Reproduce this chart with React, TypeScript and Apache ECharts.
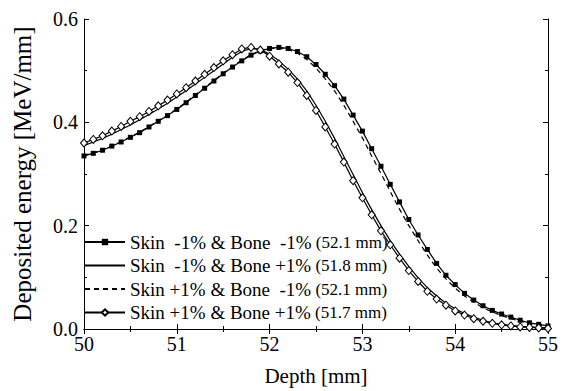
import React, { useEffect, useRef } from "react";
import * as echarts from "echarts";

const depth: number[] = [
  50.0, 50.1, 50.2, 50.3, 50.4, 50.5, 50.6, 50.7, 50.8, 50.9,
  51.0, 51.1, 51.2, 51.3, 51.4, 51.5, 51.6, 51.7, 51.8, 51.9,
  52.0, 52.1, 52.2, 52.3, 52.4, 52.5, 52.6, 52.7, 52.8, 52.9,
  53.0, 53.1, 53.2, 53.3, 53.4, 53.5, 53.6, 53.7, 53.8, 53.9,
  54.0, 54.1, 54.2, 54.3, 54.4, 54.5, 54.6, 54.7, 54.8, 54.9, 55.0,
];

// Skin -1% & Bone -1% (filled squares)
const skinM_boneM: number[] = [
  0.335, 0.340, 0.346, 0.354, 0.362, 0.371, 0.380, 0.391, 0.402, 0.413,
  0.425, 0.438, 0.452, 0.466, 0.480, 0.494, 0.507, 0.519, 0.530, 0.538,
  0.543, 0.545, 0.543, 0.537, 0.527, 0.512, 0.493, 0.471, 0.445, 0.414,
  0.383, 0.349, 0.315, 0.280, 0.246, 0.212, 0.182, 0.154, 0.127, 0.104,
  0.086, 0.069, 0.056, 0.045, 0.036, 0.029, 0.023, 0.017, 0.012, 0.009, 0.006,
];

// Skin -1% & Bone +1% (solid line)
const skinM_boneP: number[] = [
  0.355, 0.362, 0.369, 0.377, 0.386, 0.395, 0.405, 0.415, 0.426, 0.437,
  0.449, 0.461, 0.474, 0.487, 0.500, 0.513, 0.526, 0.537, 0.543, 0.541,
  0.532, 0.519, 0.503, 0.484, 0.461, 0.433, 0.402, 0.369, 0.334, 0.299,
  0.264, 0.231, 0.200, 0.171, 0.145, 0.121, 0.099, 0.080, 0.064, 0.050,
  0.039, 0.030, 0.023, 0.017, 0.012, 0.009, 0.007, 0.005, 0.004, 0.003, 0.002,
];

// Skin +1% & Bone -1% (dashed line)
const skinP_boneM: number[] = [
  0.336, 0.341, 0.347, 0.355, 0.363, 0.372, 0.381, 0.392, 0.403, 0.414,
  0.426, 0.439, 0.453, 0.467, 0.481, 0.495, 0.508, 0.520, 0.531, 0.539,
  0.543, 0.544, 0.541, 0.534, 0.522, 0.505, 0.484, 0.461, 0.433, 0.402,
  0.370, 0.335, 0.301, 0.266, 0.232, 0.200, 0.171, 0.143, 0.118, 0.097,
  0.079, 0.064, 0.052, 0.041, 0.033, 0.026, 0.020, 0.015, 0.011, 0.008, 0.005,
];

// Skin +1% & Bone +1% (open diamonds)
const skinP_boneP: number[] = [
  0.360, 0.367, 0.374, 0.383, 0.392, 0.402, 0.411, 0.421, 0.432, 0.443,
  0.455, 0.467, 0.480, 0.493, 0.506, 0.519, 0.531, 0.542, 0.545, 0.540,
  0.528, 0.513, 0.497, 0.477, 0.452, 0.423, 0.391, 0.358, 0.323, 0.287,
  0.254, 0.221, 0.190, 0.163, 0.137, 0.113, 0.092, 0.073, 0.058, 0.046,
  0.035, 0.027, 0.020, 0.015, 0.011, 0.008, 0.006, 0.004, 0.003, 0.002, 0.001,
];

const seriesNames: string[] = [
  "Skin\u00a0\u00a0-1% & Bone\u00a0\u00a0-1%",
  "Skin\u00a0\u00a0-1% & Bone +1%",
  "Skin +1% & Bone\u00a0\u00a0-1%",
  "Skin +1% & Bone +1%",
];
const peakLabels: string[] = ["(52.1 mm)", "(51.8 mm)", "(52.1 mm)", "(51.7 mm)"];

const FONT = "Liberation Serif";

export default function App() {
  const ref = useRef<HTMLDivElement>(null);

  useEffect(() => {
    if (!ref.current) return;
    const chart = echarts.init(ref.current, undefined, { renderer: "svg" });
    const pair = (ys: number[]) => depth.map((x, i) => [x, ys[i]]);
    const peakMap: Record<string, string> = {};
    seriesNames.forEach((n, i) => (peakMap[n] = peakLabels[i]));

    const axisCommon = {
      axisLine: { show: true, lineStyle: { color: "#000", width: 1 } },
      axisTick: { show: true, inside: true, length: 5, lineStyle: { color: "#000" } },
      minorTick: { show: true, splitNumber: 2, length: 3, lineStyle: { color: "#000" } },
      splitLine: { show: false },
    };

    chart.setOption({
      animation: false,
      backgroundColor: "#fff",
      textStyle: { fontFamily: FONT },
      grid: { left: 84, right: 14, top: 19, bottom: 61, containLabel: false },
      xAxis: [
        {
          type: "value",
          min: 50,
          max: 55,
          interval: 1,
          position: "bottom",
          name: "Depth [mm]",
          nameLocation: "middle",
          nameGap: 36,
          nameTextStyle: { fontFamily: FONT, fontSize: 21, color: "#000" },
          axisLabel: { fontFamily: FONT, fontSize: 20, color: "#000", margin: 5 },
          ...axisCommon,
        },
        {
          type: "value",
          min: 50,
          max: 55,
          interval: 1,
          position: "top",
          axisLabel: { show: false },
          ...axisCommon,
        },
      ],
      yAxis: [
        {
          type: "value",
          min: 0,
          max: 0.6,
          interval: 0.2,
          position: "left",
          name: "Deposited energy [MeV/mm]",
          nameLocation: "middle",
          nameGap: 49,
          nameTextStyle: { fontFamily: FONT, fontSize: 25, color: "#000" },
          axisLabel: {
            fontFamily: FONT,
            fontSize: 20,
            color: "#000",
            margin: 6,
            formatter: (v: number) => v.toFixed(1),
          },
          ...axisCommon,
        },
        {
          type: "value",
          min: 0,
          max: 0.6,
          interval: 0.2,
          position: "right",
          axisLabel: { show: false },
          ...axisCommon,
        },
      ],
      legend: {
        orient: "vertical",
        left: 84,
        top: 232,
        itemWidth: 40,
        itemHeight: 8,
        itemGap: 3.5,
        padding: 0,
        data: seriesNames,
        formatter: (name: string) => `{a|${name}}{b| ${peakMap[name]}}`,
        textStyle: {
          color: "#000",
          fontFamily: FONT,
          lineHeight: 20,
          rich: {
            a: { fontFamily: FONT, fontSize: 19, color: "#000", lineHeight: 20 },
            b: { fontFamily: FONT, fontSize: 17, color: "#000", lineHeight: 20 },
          },
        },
      },
      series: [
        {
          name: seriesNames[0],
          type: "line",
          data: pair(skinM_boneM),
          symbol: "rect",
          symbolSize: 5,
          showAllSymbol: true,
          itemStyle: { color: "#000" },
          lineStyle: { color: "#000", width: 1.2 },
          z: 4,
        },
        {
          name: seriesNames[1],
          type: "line",
          data: pair(skinM_boneP),
          symbol: "none",
          itemStyle: { color: "rgba(0,0,0,0)" },
          lineStyle: { color: "#000", width: 1.2 },
          z: 3,
        },
        {
          name: seriesNames[2],
          type: "line",
          data: pair(skinP_boneM),
          symbol: "none",
          itemStyle: { color: "rgba(0,0,0,0)" },
          lineStyle: { color: "#000", width: 1.2, type: [5, 4] },
          z: 3,
        },
        {
          name: seriesNames[3],
          type: "line",
          data: pair(skinP_boneP),
          symbol: "diamond",
          symbolSize: [7, 8],
          showAllSymbol: true,
          itemStyle: { color: "#fff", borderColor: "#000", borderWidth: 1 },
          lineStyle: { color: "#000", width: 1.2 },
          z: 4,
        },
      ],
    });
    return () => chart.dispose();
  }, []);

  return <div ref={ref} style={{ width: 562, height: 391, position: "absolute", left: 0, top: 0 }} />;
}
